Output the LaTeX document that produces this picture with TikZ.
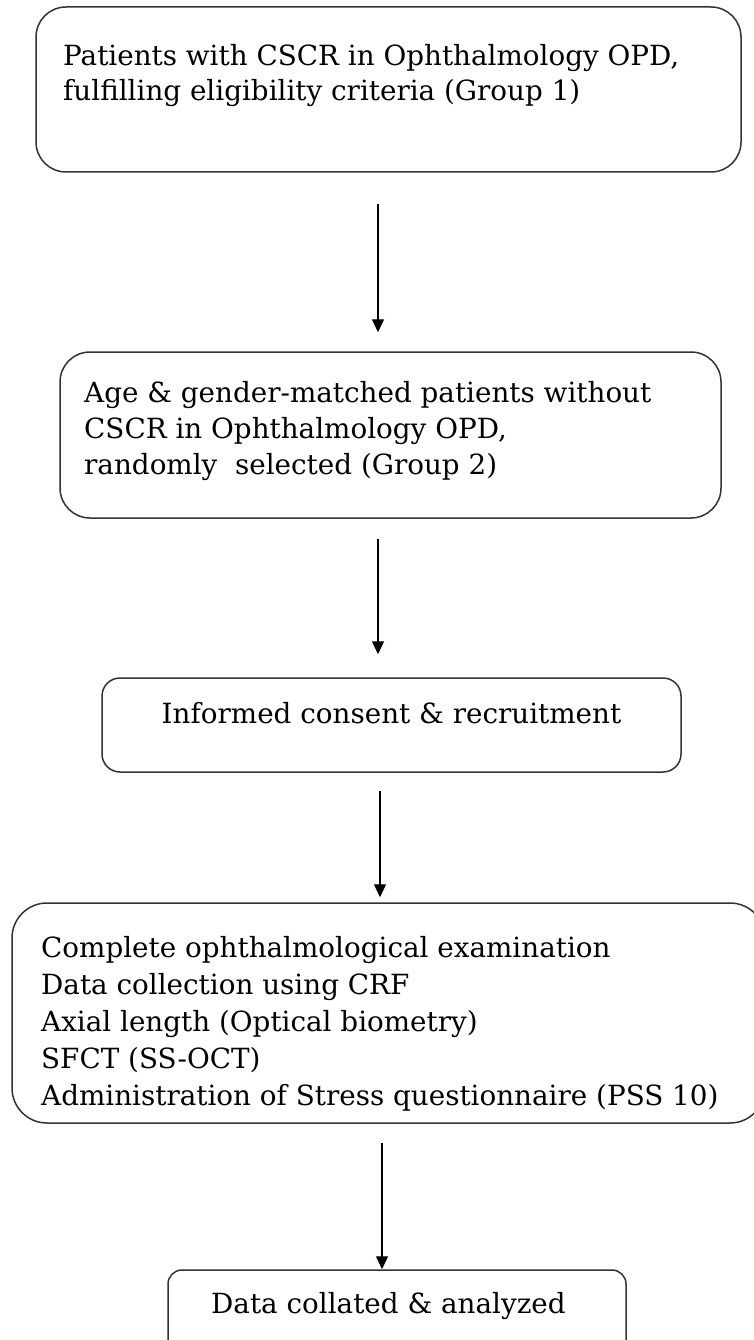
\documentclass[tikz,border=0pt]{standalone}
\usepackage{fontspec}
\setmainfont{DejaVu Serif}
\usetikzlibrary{arrows.meta}
\begin{document}
\begin{tikzpicture}[x=1pt,y=-1pt,
  flowbox/.style={draw=black!80,line width=1.5pt,rounded corners=#1,
    inner sep=0pt,minimum width=0pt,minimum height=0pt},
  txt/.style={anchor=base west,inner sep=0pt,font=\fontsize{27.8}{36}\selectfont},
  ctxt/.style={anchor=base,inner sep=0pt,font=\fontsize{27.8}{36}\selectfont},
  flowarrow/.style={draw=black,line width=1.3pt,
    -{Triangle[length=13pt,width=12pt]}}]
\useasboundingbox (0,0) rectangle (754,1340);

% boxes
\node[flowbox=30pt,minimum width=705pt,minimum height=165pt] (b1) at (388.5,89.5) {};
\node[flowbox=30pt,minimum width=661pt,minimum height=166pt] (b2) at (390.5,435) {};
\node[flowbox=18pt,minimum width=579pt,minimum height=94pt] (b3) at (391.5,725) {};
\node[flowbox=35pt,minimum width=753pt,minimum height=220pt] (b4) at (388.5,1013) {};
\node[flowbox=14pt,minimum width=458pt,minimum height=95pt] (b5) at (397,1317.5) {};

% texts
\node[txt] (t1a) at (63,66) {Patients with CSCR in Ophthalmology OPD,};
\node[txt] (t1b) at (63,101) {fulfilling eligibility criteria (Group 1)};

\node[txt] (t2a) at (84,402) {Age \& gender-matched patients without};
\node[txt] (t2b) at (84,438) {CSCR in Ophthalmology OPD,};
\node[txt] (t2c) at (84,474) {randomly\ \ selected (Group 2)};

\node[ctxt] (t3) at (391.5,723) {Informed consent \& recruitment};

\node[txt] (t4a) at (41,957) {Complete ophthalmological examination};
\node[txt] (t4b) at (41,994) {Data collection using CRF};
\node[txt] (t4c) at (41,1031) {Axial length (Optical biometry)};
\node[txt] (t4d) at (41,1068) {SFCT (SS-OCT)};
\node[txt] (t4e) at (41,1105) {Administration of Stress questionnaire (PSS 10)};

\node[txt] (t5) at (211,1313) {Data collated \& analyzed};

% connectors
\coordinate (ca) at (378,0);
\coordinate (cb) at (380,0);
\coordinate (cc) at (382,0);
\draw[flowarrow,shorten <=31pt,shorten >=19pt] (b1.south -| ca) -- (b2.north -| ca);
\draw[flowarrow,shorten <=20pt,shorten >=23pt] (b2.south -| ca) -- (b3.north -| ca);
\draw[flowarrow,shorten <=18pt,shorten >=5pt] (b3.south -| cb) -- (b4.north -| cb);
\draw[flowarrow,shorten <=19pt,shorten >=0pt] (b4.south -| cc) -- (b5.north -| cc);
\end{tikzpicture}
\end{document}
